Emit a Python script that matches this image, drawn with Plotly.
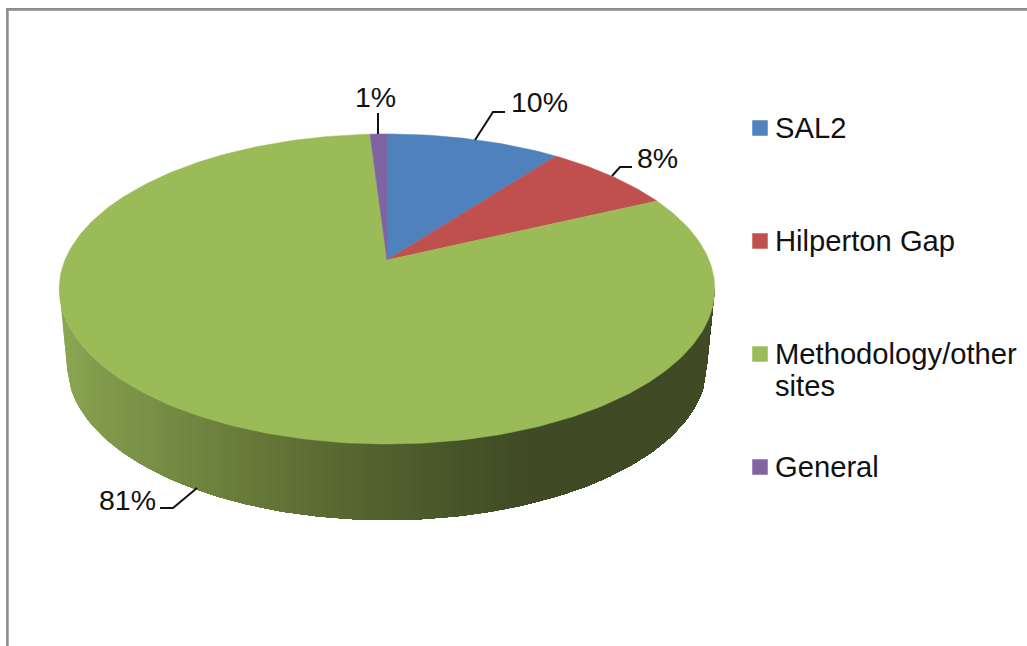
import numpy as np
import plotly.graph_objects as go

# ---- data ----
categories = ["SAL2", "Hilperton Gap", "Methodology/other sites", "General"]
legend_lines = [["SAL2"], ["Hilperton Gap"], ["Methodology/other", "sites"], ["General"]]
values = [10.3, 7.7, 81, 1]
value_labels = ["10%", "8%", "81%", "1%"]
colors = ["#4F81BD", "#C0504D", "#9BBB59", "#8064A2"]

# ---- layout / style constants (pixel space) ----
W, H = 1027, 646
FONT = "Liberation Sans, Arial, sans-serif"
FS_LABEL = 28.5
FS_LEGEND = 29.2
TEXT = "#111111"
CX, CY = 387.0, 260.0      # projected pie centre
PERSP = 0.187              # perspective factor
A, B = 322.0, 149.6        # projected radii
DEPTH = 76.0
BOTTOM_SCALE = 0.976
GRAD_X = [60, 100, 250, 350, 450, 535, 720]
GRAD_R = [140, 130, 103, 87, 72, 64, 64]
GRAD_G = [168, 155, 122, 103, 87, 74, 74]
GRAD_B = [84, 76, 58, 48, 42, 37, 37]
LEGEND_Y = [[128], [241], [354, 386], [467]]
LABEL_POS = [(539, 102), (657, 158), (127, 500), (375, 97)]
LEADERS = [
    [(475, 140), (493, 112), (505, 112)],
    [(612, 176), (620, 167), (632, 167)],
    [(197, 488), (173, 508), (160, 508)],
    [(378, 134), (378, 113)],
]


def project(theta, depth=0.0, xscale=1.0):
    """theta: clockwise angle from 12 o'clock, in radians."""
    u, v = np.sin(theta), np.cos(theta)
    d = 1 + PERSP * v
    return CX + xscale * A * u / d, CY + depth - B * v / d


fig = go.Figure()

# side wall: painted left to right, each layer running to the right rim, so no seams show
extreme = np.arcsin(PERSP)
thetas = np.linspace(np.pi / 2 + extreme, 3 * np.pi / 2 - extreme, 400)
xt, yt = project(thetas)
xb, yb = project(thetas, DEPTH, BOTTOM_SCALE)
xt, yt = xt[::-1], yt[::-1]                      # ascending x
xb, yb = xb[::-1], yb[::-1]
xb = np.concatenate([[xt[0]], xb, [xt[-1]]])     # silhouette joins the two rims
yb = np.concatenate([[yt[0]], yb, [yt[-1]]])
columns = np.arange(xt[0], xt[-1] + 4, 4.0)
columns[-1] = xt[-1]
for x0, x1 in zip(columns[:-1], columns[1:]):
    xs = columns[columns >= x0]
    top = np.interp(xs, xt, yt)
    bot = np.interp(xs, xb, yb)
    col = "rgb(%d,%d,%d)" % tuple(np.interp((x0 + x1) / 2, GRAD_X, g) for g in (GRAD_R, GRAD_G, GRAD_B))
    fig.add_trace(go.Scatter(
        x=list(xs) + list(xs[::-1]), y=list(top) + list(bot[::-1]),
        mode="lines", fill="toself", fillcolor=col, line=dict(color=col, width=0),
        hoverinfo="skip", showlegend=False))

# top face wedges
cum = np.concatenate([[0], np.cumsum(values)]) / sum(values) * 2 * np.pi
for name, col, a0, a1 in zip(categories, colors, cum[:-1], cum[1:]):
    ts = np.linspace(a0, a1, max(3, int((a1 - a0) * 60)))
    xs, ys = project(ts)
    fig.add_trace(go.Scatter(
        x=[CX] + list(xs) + [CX], y=[CY] + list(ys) + [CY],
        mode="lines", fill="toself", fillcolor=col, line=dict(color=col, width=0.5),
        name=name, hoverinfo="name", showlegend=False))

# legend swatches and texts
annotations = []
for col, lines, ys in zip(colors, legend_lines, LEGEND_Y):
    fig.add_trace(go.Scatter(
        x=[760], y=[ys[0]], mode="markers",
        marker=dict(symbol="square", size=15.5, color=col), hoverinfo="skip", showlegend=False))
    for line, y in zip(lines, ys):
        annotations.append(dict(x=773, y=y, text=line, showarrow=False, xanchor="left", yanchor="middle",
                                xref="x", yref="y", font=dict(family=FONT, size=FS_LEGEND, color=TEXT)))

# value labels and leaders
for label, (x, y) in zip(value_labels, LABEL_POS):
    annotations.append(dict(x=x, y=y, text=label, showarrow=False, xanchor="center", yanchor="middle",
                            xref="x", yref="y", font=dict(family=FONT, size=FS_LABEL, color=TEXT)))
for pts in LEADERS:
    fig.add_trace(go.Scatter(
        x=[p[0] for p in pts], y=[p[1] for p in pts], mode="lines",
        line=dict(color="#111111", width=2), hoverinfo="skip", showlegend=False))

frame = "#8c8c8c"
shapes = [
    dict(type="line", x0=7.4, x1=7.4, y0=8, y1=H, xref="x", yref="y", line=dict(color=frame, width=2.6)),
    dict(type="line", x0=6, x1=W, y0=9.4, y1=9.4, xref="x", yref="y", line=dict(color=frame, width=2.6)),
]

fig.update_layout(
    width=W, height=H, margin=dict(l=0, r=0, t=0, b=0),
    paper_bgcolor="white", plot_bgcolor="white", showlegend=False,
    xaxis=dict(range=[0, W], visible=False, fixedrange=True),
    yaxis=dict(range=[H, 0], visible=False, fixedrange=True),
    annotations=annotations, shapes=shapes,
)
fig.write_html("out.html", config={"displayModeBar": False},
               post_script="document.body.style.margin='0';")
